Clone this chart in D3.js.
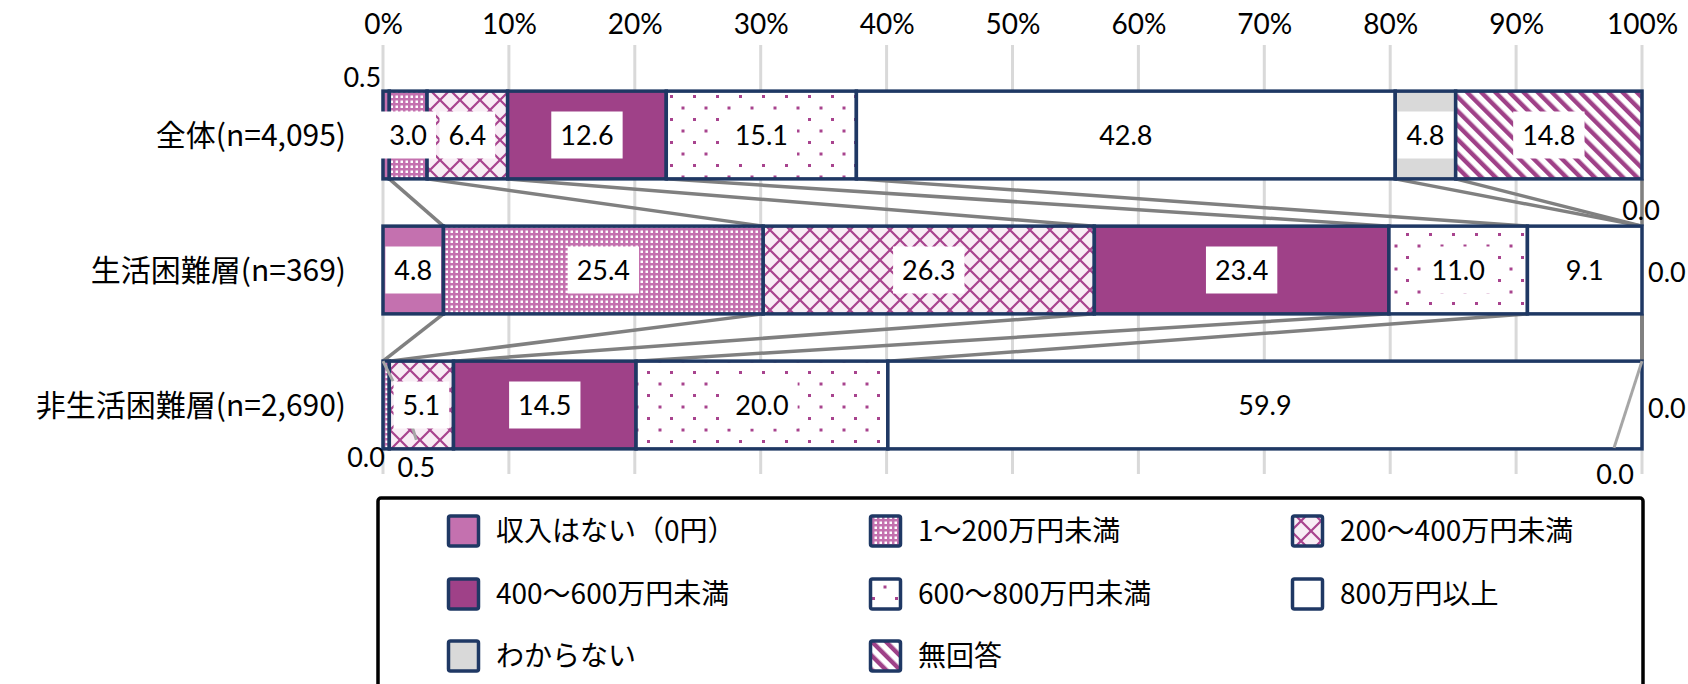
<!DOCTYPE html>
<html>
<head>
<meta charset="utf-8">
<script src="https://cdn.jsdelivr.net/npm/d3@7"></script>
<style>
  body { margin: 0; background: #fff; }
  svg { display: block; }
  .num { font-family: Lato, "Noto Sans CJK JP", sans-serif; }
  .jp { font-family: "Noto Sans CJK JP", sans-serif; }
</style>
</head>
<body>
<div id="chart"></div>
<script>
// categories (rows) and series
const rows = ["全体(n=4,095)", "生活困難層(n=369)", "非生活困難層(n=2,690)"];
const seriesNames = ["収入はない（0円）", "1～200万円未満", "200～400万円未満", "400～600万円未満",
    "600～800万円未満", "800万円以上", "わからない", "無回答"];

// values per row, in series order (%)
const valuesAll = [0.5, 3.0, 6.4, 12.6, 15.1, 42.8, 4.8, 14.8];
const valuesHard = [4.8, 25.4, 26.3, 23.4, 11.0, 9.1, 0.0, 0.0];
const valuesNonHard = [0.0, 0.5, 5.1, 14.5, 20.0, 59.9, 0.0, 0.0];

const xTicks = [0, 10, 20, 30, 40, 50, 60, 70, 80, 90, 100];

const width = 1688, height = 684;
const navy = "#1F3864";
const purple = "#9F4188";
const pink = "#C471AF";
const patPurple = "#A8438E";

const svg = d3.select("#chart").append("svg")
    .attr("width", width)
    .attr("height", height);

// patterns
const defs = svg.append("defs");

let p = defs.append("pattern").attr("id", "pat1").attr("patternUnits", "userSpaceOnUse")
    .attr("width", 5).attr("height", 5);
p.append("rect").attr("width", 5).attr("height", 5).attr("fill", pink);
p.append("rect").attr("x", 0.5).attr("y", 0.5).attr("width", 2.5).attr("height", 2.5).attr("fill", "#fff");

p = defs.append("pattern").attr("id", "pat2").attr("patternUnits", "userSpaceOnUse")
    .attr("width", 20).attr("height", 20);
p.append("rect").attr("width", 20).attr("height", 20).attr("fill", "#F8EDF5");
p.append("path").attr("d", "M0,0L20,20M20,0L0,20").attr("stroke", patPurple).attr("stroke-width", 2.2);

p = defs.append("pattern").attr("id", "pat4").attr("patternUnits", "userSpaceOnUse")
    .attr("width", 23).attr("height", 23);
p.append("rect").attr("width", 23).attr("height", 23).attr("fill", "#fff");
p.append("rect").attr("x", 3).attr("y", 3).attr("width", 3).attr("height", 3).attr("fill", patPurple);
p.append("rect").attr("x", 14.5).attr("y", 14.5).attr("width", 3).attr("height", 3).attr("fill", patPurple);

p = defs.append("pattern").attr("id", "pat7").attr("patternUnits", "userSpaceOnUse")
    .attr("width", 10).attr("height", 10).attr("patternTransform", "rotate(-45)");
p.append("rect").attr("width", 10).attr("height", 10).attr("fill", "#fff");
p.append("rect").attr("x", 0).attr("width", 4.4).attr("height", 10).attr("fill", purple);

const fills = [pink, "url(#pat1)", "url(#pat2)", purple, "url(#pat4)", "#fff", "#D9D9D9", "url(#pat7)"];

// data table and stack
const keys = seriesNames;
const table = rows.map((r, i) => {
    let vals = [valuesAll, valuesHard, valuesNonHard][i];
    let o = { row: r };
    keys.forEach((k, j) => o[k] = vals[j]);
    return o;
});
const stacked = d3.stack().keys(keys)(table);

// scales
const x = d3.scaleLinear().domain([0, 100]).range([383, 1642]);
const y = d3.scaleBand().domain(rows).range([67.5, 472.5])
    .paddingInner(0.35).paddingOuter(0.175);
const bw = y.bandwidth();

// gridlines
svg.append("g")
    .selectAll("line")
    .data(xTicks)
    .join("line")
    .attr("x1", d => x(d)).attr("x2", d => x(d))
    .attr("y1", 45).attr("y2", 474)
    .attr("stroke", "#D9D9D9")
    .attr("stroke-width", 3);

// top axis
const xAxis = d3.axisTop(x).tickValues(xTicks).tickFormat(d => d + "%").tickSize(0).tickPadding(6);
const axisG = svg.append("g")
    .attr("transform", "translate(0,40)")
    .call(xAxis);
axisG.select(".domain").remove();
axisG.selectAll("text")
    .attr("class", "num")
    .style("font-size", "28px")
    .attr("fill", "#000");

// series lines between bars
const seriesLines = [];
for (let r = 0; r < rows.length - 1; r++) {
    stacked.forEach(s => {
        seriesLines.push({
            x1: x(s[r][1]), y1: y(rows[r]) + bw,
            x2: x(s[r + 1][1]), y2: y(rows[r + 1])
        });
    });
}
svg.append("g")
    .selectAll("line")
    .data(seriesLines)
    .join("line")
    .attr("x1", d => d.x1).attr("y1", d => d.y1)
    .attr("x2", d => d.x2).attr("y2", d => d.y2)
    .attr("stroke", "#808080")
    .attr("stroke-width", 3.5);

// bars
const segs = [];
stacked.forEach((s, si) => {
    s.forEach((d, ri) => {
        segs.push({ si: si, ri: ri, x0: d[0], x1: d[1], v: d[1] - d[0], row: rows[ri] });
    });
});

svg.append("g")
    .selectAll("rect")
    .data(segs)
    .join("rect")
    .attr("x", d => x(d.x0))
    .attr("y", d => y(d.row))
    .attr("width", d => x(d.x1) - x(d.x0))
    .attr("height", bw)
    .attr("fill", d => fills[d.si])
    .attr("stroke", navy)
    .attr("stroke-width", 3.5);

// leader lines for small labels
const ry3 = y(rows[2]);
const leaders = [
    { x1: x(0), y1: ry3, x2: x(0) + 10, y2: ry3 + 20 },
    { x1: x(0.5) + 27, y1: ry3 + bw - 9, x2: x(0.5) + 23, y2: ry3 + bw - 22 },
    { x1: x(100), y1: ry3, x2: x(100) - 28, y2: ry3 + bw - 1 }
];
svg.append("g")
    .selectAll("line")
    .data(leaders)
    .join("line")
    .attr("x1", d => d.x1).attr("y1", d => d.y1)
    .attr("x2", d => d.x2).attr("y2", d => d.y2)
    .attr("stroke", "#A6A6A6")
    .attr("stroke-width", 3);

// value labels (small values are placed outside the bar)
const outside = {
    "0-0": { dx: -27, dy: -58, anchor: "middle" },
    "1-6": { dx: -1, dy: -60, anchor: "middle" },
    "1-7": { dx: 6, dy: 2, anchor: "start" },
    "2-0": { dx: -17, dy: 52, anchor: "middle" },
    "2-1": { dx: 27, dy: 62, anchor: "middle" },
    "2-6": { dx: -27, dy: 69, anchor: "middle" },
    "2-7": { dx: 6, dy: 3, anchor: "start" }
};

const labelG = svg.append("g");
segs.forEach(d => {
    let key = d.ri + "-" + d.si;
    let cy = y(d.row) + bw / 2;
    let txt = d3.format(".1f")(d.v);
    if (outside[key]) {
        let o = outside[key];
        labelG.append("text")
            .attr("class", "num")
            .attr("x", x(d.x1) + o.dx)
            .attr("y", cy + o.dy)
            .attr("dy", "0.36em")
            .attr("text-anchor", o.anchor)
            .style("font-size", "27px")
            .text(txt);
    } else {
        let cx = (x(d.x0) + x(d.x1)) / 2;
        let g = labelG.append("g");
        let rect = g.append("rect").attr("fill", "#fff");
        let t = g.append("text")
            .attr("class", "num")
            .attr("x", cx)
            .attr("y", cy)
            .attr("dy", "0.36em")
            .attr("text-anchor", "middle")
            .style("font-size", "27px")
            .text(txt);
        let w = t.node().getComputedTextLength() + 18;
        rect.attr("x", cx - w / 2).attr("y", cy - 23.5).attr("width", w).attr("height", 47);
    }
});

// category labels
svg.append("g")
    .selectAll("text")
    .data(rows)
    .join("text")
    .attr("class", "jp")
    .attr("x", 346)
    .attr("y", d => y(d) + bw / 2)
    .attr("dy", "0.36em")
    .attr("text-anchor", "end")
    .style("font-size", "30px")
    .text(d => d);

// legend
svg.append("rect")
    .attr("x", 378).attr("y", 498)
    .attr("width", 1265).attr("height", 220)
    .attr("rx", 3)
    .attr("fill", "#fff")
    .attr("stroke", "#000")
    .attr("stroke-width", 3.5);

const legCols = [447, 869, 1291];
const legRows = [531, 594, 656];
const legend = svg.append("g")
    .selectAll("g")
    .data(seriesNames)
    .join("g")
    .attr("transform", (d, i) => `translate(${legCols[i % 3]},${legRows[Math.floor(i / 3)]})`);

legend.append("rect")
    .attr("x", 1.5).attr("y", -15)
    .attr("width", 30).attr("height", 30)
    .attr("rx", 2)
    .attr("fill", (d, i) => fills[i])
    .attr("stroke", navy)
    .attr("stroke-width", 3.5);

legend.append("text")
    .attr("class", "jp")
    .attr("x", 49)
    .attr("y", 0)
    .attr("dy", "0.36em")
    .style("font-size", "28px")
    .text(d => d);
</script>
</body>
</html>
